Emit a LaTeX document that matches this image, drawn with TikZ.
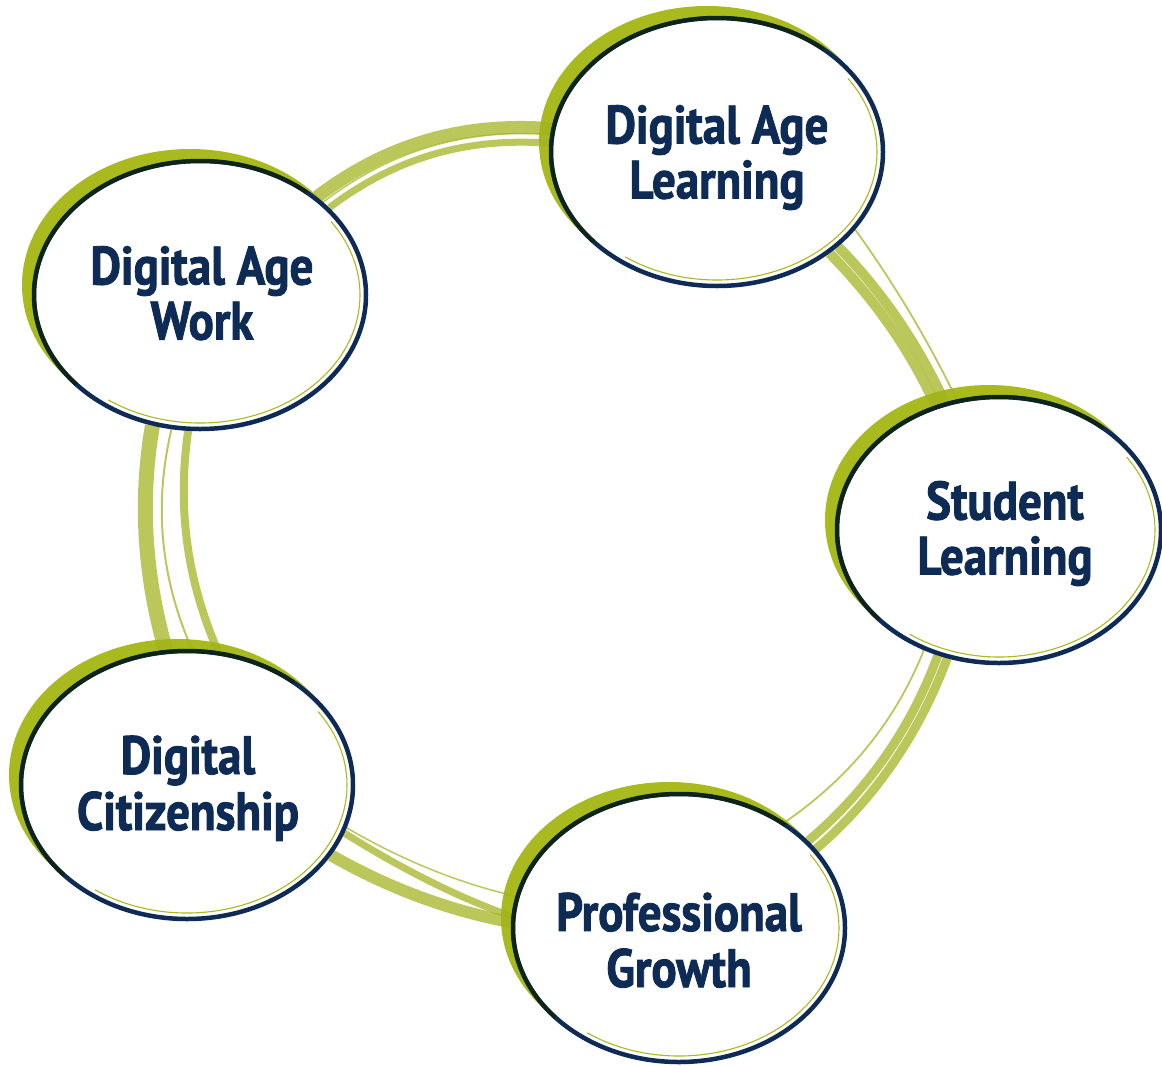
\documentclass[tikz,border=0pt]{standalone}
\usepackage{fontspec}
\newfontfamily\lblfont[FakeStretch=0.87, BoldFeatures={FakeBold=1.6}]{PT Sans}
\usetikzlibrary{shapes.geometric}
\pgfdeclarelayer{ring}
\pgfdeclarelayer{bands}
\pgfsetlayers{ring,bands,main}
\definecolor{navy}{HTML}{0D2B55}
\definecolor{darkedge}{HTML}{0E2417}
\definecolor{ringgreen}{HTML}{A9BA1F}
\definecolor{bandgreen}{HTML}{A2B21C}
\tikzset{
  bubble/.style={ellipse, draw=navy, line width=4.5pt, fill=white,
    minimum width=332pt, minimum height=268pt, inner sep=0pt},
  lbl/.style={font=\lblfont\bfseries\fontsize{54}{55}\selectfont, text=navy, align=center},
  bandline/.style={draw=bandgreen, draw opacity=0.72, line width=#1},
  ringfill/.style={fill=ringgreen},
  darkarc/.style={draw=darkedge, line width=4pt},
  innerthin/.style={draw=ringgreen, line width=1.1pt},
}
\begin{document}
\begin{tikzpicture}[x=1pt,y=-1pt]
\useasboundingbox (0,0) rectangle (1162,1066);

% bubbles
\node[bubble] (learn) at (717,152) {};
\node[bubble] (work) at (200,295) {};
\node[bubble, minimum width=324pt, minimum height=266pt] (stud) at (999,530) {};
\node[bubble] (citz) at (187,785) {};
\node[bubble] (grow) at (679,928) {};
\coordinate (learnB) at ([shift={(137,76)}]learn.center);

% green offset rings behind
\begin{pgfonlayer}{ring}
\foreach \n in {learn,work,citz,grow}{
  \fill[ringfill] ([shift={(-10,-10)}]\n.center) ellipse [x radius=168, y radius=136];
}
\fill[ringfill] ([shift={(-10,-10)}]stud.center) ellipse [x radius=164, y radius=135];
\end{pgfonlayer}

% dark edge on upper-left of each bubble and thin inner green line
\foreach \n in {learn,work,citz,grow}{
  \draw[darkarc] (\n.center) ++(-50:166 and 134) arc[start angle=-50, end angle=-222, x radius=166, y radius=134];
  \draw[innerthin] (\n.center) ++(125:160 and 128) arc[start angle=125, end angle=-35, x radius=160, y radius=128];
}
\draw[darkarc] (stud.center) ++(-50:162 and 133) arc[start angle=-50, end angle=-222, x radius=162, y radius=133];
\draw[innerthin] (stud.center) ++(125:156 and 127) arc[start angle=125, end angle=-35, x radius=156, y radius=127];

% connecting bands
\begin{pgfonlayer}{bands}
% Work -- Learning
\draw[bandline=13] (work.40) .. controls +(70,-53) and +(-88,-7) .. (learn.172);
\draw[bandline=7] (work.34.5) .. controls +(66,-50) and +(-83,-6) .. (learn.177);
\draw[bandline=1.5] (work.37) .. controls +(68,-52) and +(-85,-6) .. (learn.174.5);
% Learning -- Student
\draw[bandline=10] (learn.-38) .. controls +(45,46) and +(-27,-58) .. (stud.113);
\draw[bandline=10] (learn.-42) .. controls +(45,46) and +(-27,-58) .. (stud.117);
\draw[bandline=1.8] (learnB) .. controls +(40,55) and +(-28,-58) .. (stud.108);
% Student -- Growth
\draw[bandline=9] (stud.-112) .. controls +(-27,73) and +(60,-51) .. (grow.30);
\draw[bandline=9] (stud.-116) .. controls +(-27,73) and +(60,-51) .. (grow.34);
\draw[bandline=1.8] (stud.-122) .. controls +(-29,72) and +(64,-44) .. (grow.45);
% Growth -- Citizenship
\draw[bandline=12] (citz.-26) .. controls +(56,32) and +(-64,-12) .. (grow.178);
\draw[bandline=7] (citz.-17) .. controls +(53,33) and +(-59,-21) .. (grow.176);
\draw[bandline=1.5] (citz.-15) .. controls +(53,31) and +(-60,-14) .. (grow.169);
% Citizenship -- Work
\draw[bandline=15] (work.-110) .. controls +(-13,76) and +(-21,-74) .. (citz.99);
\draw[bandline=8] (work.-95.6) .. controls +(-11,77) and +(-31,-71) .. (citz.77);
\draw[bandline=2] (work.-102) .. controls +(-18,76) and +(-31,-71) .. (citz.88);
\end{pgfonlayer}

% labels
\node[lbl] (tlearn) at (717,160) {\strut Digital Age\\\strut Learning};
\node[lbl] (twork) at (202,301) {\strut Digital Age\\\strut Work};
\node[lbl] (tstud) at (1005,536) {\strut Student\\\strut Learning};
\node[lbl] (tcitz) at (188,791) {\strut Digital\\\strut Citizenship};
\node[lbl] (tgrow) at (679,948) {\strut Professional\\\strut Growth};
\end{tikzpicture}
\end{document}
